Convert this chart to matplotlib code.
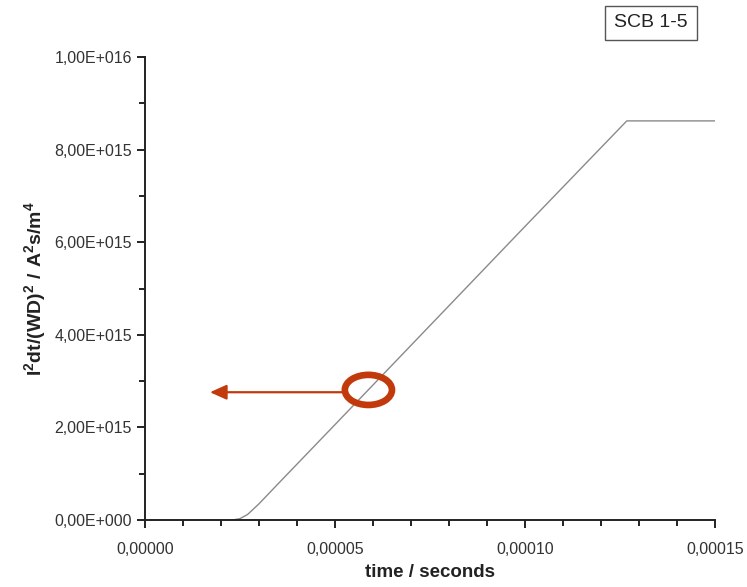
import matplotlib
matplotlib.use("Agg")
import matplotlib.pyplot as plt
from matplotlib.patches import Ellipse
from matplotlib.ticker import FuncFormatter, MultipleLocator

plt.rcParams['font.family'] = ['Liberation Sans', 'DejaVu Sans']
plt.rcParams['mathtext.fontset'] = 'custom'
plt.rcParams['mathtext.rm'] = 'Liberation Sans'
plt.rcParams['mathtext.bf'] = 'Liberation Sans:bold'

# Data
time_s = [2.3e-5, 2.5e-5, 2.7e-5, 3.0e-5, 3.5e-5, 5.0e-5, 1.0e-4, 1.268e-4, 1.5e-4]
i2dt = [0.0, 0.03e15, 0.12e15, 0.35e15, 0.78e15, 2.06e15, 6.34e15, 8.62e15, 8.62e15]

marker_t = 5.88e-5
marker_y = 2.81e15
arrow_y = 2.76e15
arrow_tip_t = 1.71e-5
label_box = "SCB 1-5"


def y_fmt(v, pos):
    if v == 0:
        return "0,00E+000"
    s = "%.2E" % v
    mant, exp = s.split("E")
    return "%sE%s%03d" % (mant.replace(".", ","), exp[0], abs(int(exp)))


def x_fmt(v, pos):
    return ("%.5f" % v).replace(".", ",")


fig = plt.figure(figsize=(7.47, 5.87), dpi=100)
ax = fig.add_axes([0.1941, 0.1141, 0.763, 0.7888])

ax.plot(time_s, i2dt, color="#8a8a8a", lw=1.0)

ax.set_xlim(0, 0.00015)
ax.set_ylim(0, 1e16)
ax.xaxis.set_major_locator(MultipleLocator(0.00005))
ax.xaxis.set_minor_locator(MultipleLocator(0.00001))
ax.yaxis.set_major_locator(MultipleLocator(2e15))
ax.yaxis.set_minor_locator(MultipleLocator(1e15))
ax.xaxis.set_major_formatter(FuncFormatter(x_fmt))
ax.yaxis.set_major_formatter(FuncFormatter(y_fmt))
ax.yaxis.get_offset_text().set_visible(False)

for side in ("top", "right"):
    ax.spines[side].set_visible(False)
for side in ("left", "bottom"):
    ax.spines[side].set_linewidth(1.4)
    ax.spines[side].set_color("#222222")

ax.tick_params(which="major", direction="out", length=6, width=1.4, labelsize=11.5,
               colors="#222222", labelcolor="#333333")
ax.tick_params(which="minor", direction="out", length=4, width=1.4, colors="#222222")
ax.tick_params(axis="x", pad=10)

ax.set_xlabel("time / seconds", fontsize=13.5, fontweight="bold", color="#222222")
ax.set_ylabel(r"$\mathbf{I^2dt/(WD)^2\ /\ A^2s/m^4}$", fontsize=14, color="#222222")
# place labels where the reference has them (pixels -> axes fraction)
ax.xaxis.set_label_coords(0.5, -(564 - 520) / 463.0)
ax.yaxis.set_label_coords(-(145 - 48) / 570.0, 0.5)

red = "#c23a0c"
ax.annotate("", xy=(arrow_tip_t, arrow_y), xytext=(marker_t - 0.66e-5, arrow_y),
            arrowprops=dict(arrowstyle="-|>,head_length=1.0,head_width=0.45",
                            color=red, lw=1.6, shrinkA=0, shrinkB=0))
ax.add_patch(Ellipse((marker_t, marker_y), 1.24e-5, 6.5e14, fill=False,
                     edgecolor=red, lw=4.8, zorder=5))

fig.text(0.8715, 0.961, label_box, ha="center", va="center", fontsize=14, color="#222222",
         bbox=dict(boxstyle="square,pad=0.45", fc="white", ec="#555555", lw=1.0))

fig.savefig("out.png", dpi=100)
